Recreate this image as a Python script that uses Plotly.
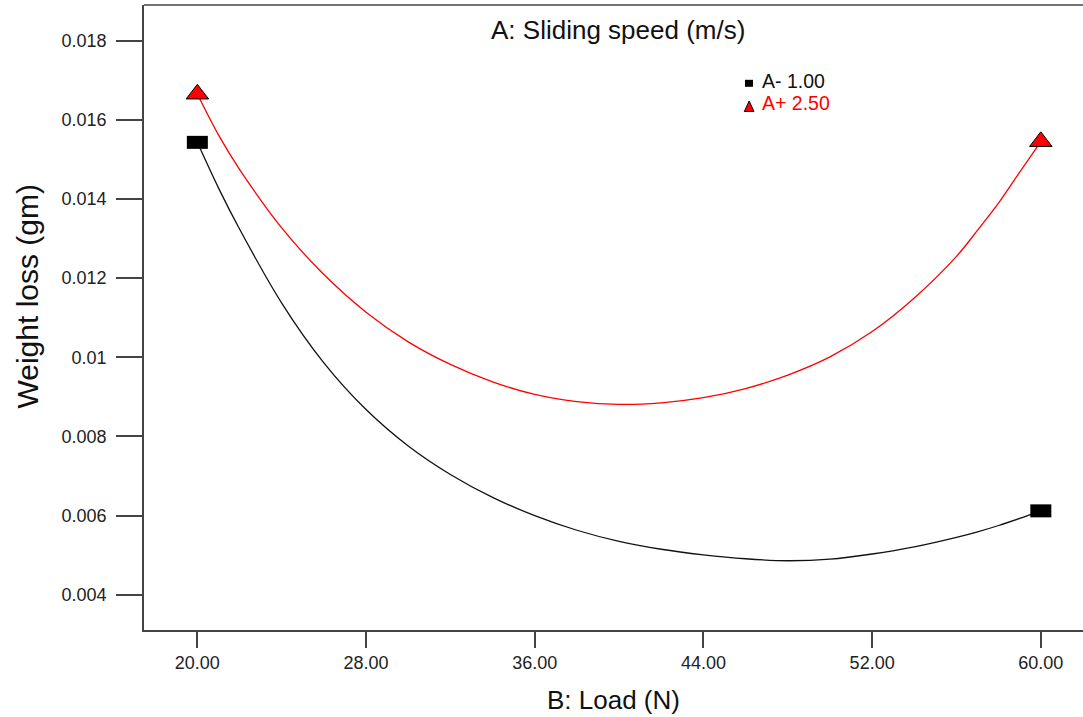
import plotly.graph_objects as go

# Load B (N) where each fitted curve was sampled
load_b = [20, 21, 22, 24, 26, 28, 30, 32, 34, 36, 38, 40, 42, 44, 46, 48, 50, 52, 54, 56, 57, 58, 59, 60]

# Weight loss (gm) at A- = 1.00 m/s
loss_a_low = [0.01543, 0.01428, 0.01324, 0.01137, 0.00986, 0.00868, 0.00776, 0.00704, 0.00646, 0.00600,
              0.00563, 0.00535, 0.00515, 0.00501, 0.00491, 0.00486, 0.00490, 0.00503, 0.00521, 0.00545,
              0.00559, 0.00575, 0.00593, 0.00612]

# Weight loss (gm) at A+ = 2.50 m/s
loss_a_high = [0.01665, 0.01562, 0.01475, 0.01327, 0.01209, 0.01114, 0.01039, 0.00982, 0.00938, 0.00906,
               0.00888, 0.00881, 0.00885, 0.00898, 0.00921, 0.00955, 0.01001, 0.01065, 0.01150, 0.01255,
               0.01321, 0.01390, 0.01468, 0.01545]

legend_labels = ["A- 1.00", "A+ 2.50"]

x_tick_vals = [20, 28, 36, 44, 52, 60]
y_tick_vals = [0.004, 0.006, 0.008, 0.010, 0.012, 0.014, 0.016, 0.018]
y_tick_text = ["0.004", "0.006", "0.008", "0.01", "0.012", "0.014", "0.016", "0.018"]

FONT = "Liberation Sans, Arial, sans-serif"
W, H = 1083, 717
ML, MR, MT, MB = 144, 0, 5, 87
PW, PH = W - ML - MR, H - MT - MB


def px(x):
    """pixel column -> paper x"""
    return (x - ML) / PW


def py(y):
    """pixel row -> paper y"""
    return (H - MB - y) / PH


fig = go.Figure()

# fitted curves
fig.add_trace(go.Scatter(x=load_b, y=loss_a_low, mode="lines",
                         line=dict(color="#111111", width=1.3, shape="spline", smoothing=1.0),
                         showlegend=False, hoverinfo="skip"))
fig.add_trace(go.Scatter(x=load_b, y=loss_a_high, mode="lines",
                         line=dict(color="#ff0000", width=1.3, shape="spline", smoothing=1.0),
                         showlegend=False, hoverinfo="skip"))

# design points at the ends of each curve
fig.add_trace(go.Scatter(x=[load_b[0], load_b[-1]], y=[loss_a_low[0], loss_a_low[-1]], mode="markers",
                         marker=dict(symbol="line-ew", size=15, line=dict(color="#000000", width=13)),
                         showlegend=False))
fig.add_trace(go.Scatter(x=[load_b[0], load_b[-1]], y=[loss_a_high[0], loss_a_high[-1]], mode="markers",
                         marker=dict(symbol="triangle-up", size=19.5, color="#ff0000",
                                     line=dict(color="#000000", width=1)),
                         showlegend=False))

axis_color = "#444444"

# key in the upper right: glyphs plus labels
key_shapes = [
    dict(type="rect", xref="paper", yref="paper",
         x0=px(745), x1=px(753), y0=py(86.8), y1=py(79.8),
         fillcolor="#000000", line=dict(width=0)),
    dict(type="path", xref="paper", yref="paper",
         path=f"M {px(744.3)},{py(111.5)} L {px(754)},{py(111.5)} L {px(749.15)},{py(101)} Z",
         fillcolor="#ff0000", line=dict(color="#000000", width=1)),
    dict(type="line", xref="paper", yref="paper", x0=0, x1=1, y0=1, y1=1,
         line=dict(color=axis_color, width=1.6)),
]

fig.update_layout(
    width=W, height=H,
    margin=dict(l=ML, r=MR, t=MT, b=MB),
    plot_bgcolor="white", paper_bgcolor="white",
    font=dict(family=FONT, color="#222222"),
    showlegend=False,
    xaxis=dict(range=[17.47, 62.0], tickvals=x_tick_vals, tickformat=".2f",
               showgrid=False, zeroline=False, showline=True, linecolor=axis_color, linewidth=1.6,
               ticks="outside", ticklen=16, tickwidth=1.6, tickcolor=axis_color,
               tickfont=dict(size=18, family=FONT, color="#222222")),
    yaxis=dict(range=[0.00311, 0.0189], tickvals=y_tick_vals, ticktext=y_tick_text,
               showgrid=False, zeroline=False, showline=True, linecolor=axis_color, linewidth=1.6,
               ticks="outside", ticklen=26, tickwidth=1.6, tickcolor=axis_color, ticklabelstandoff=6,
               tickfont=dict(size=18, family=FONT, color="#222222")),
    shapes=key_shapes,
    annotations=[
        dict(text="A: Sliding speed (m/s)", xref="paper", yref="paper", x=0.505, y=py(30),
             xanchor="center", yanchor="middle", showarrow=False,
             font=dict(size=26, family=FONT, color="#111111")),
        dict(text="B: Load (N)", xref="paper", yref="paper", x=0.4995, y=py(700),
             xanchor="center", yanchor="middle", showarrow=False,
             font=dict(size=26, family=FONT, color="#111111")),
        dict(text="Weight loss (gm)", xref="paper", yref="paper", x=px(27), y=py(296.5), textangle=-90,
             xanchor="center", yanchor="middle", showarrow=False,
             font=dict(size=30, family=FONT, color="#111111")),
        dict(text=legend_labels[0], xref="paper", yref="paper", x=px(760), y=py(81),
             xanchor="left", yanchor="middle", showarrow=False,
             font=dict(size=19.5, family=FONT, color="#111111")),
        dict(text=legend_labels[1], xref="paper", yref="paper", x=px(760), y=py(102.5),
             xanchor="left", yanchor="middle", showarrow=False,
             font=dict(size=19.5, family=FONT, color="#ff0000")),
    ],
)

fig.write_html("out.html")
